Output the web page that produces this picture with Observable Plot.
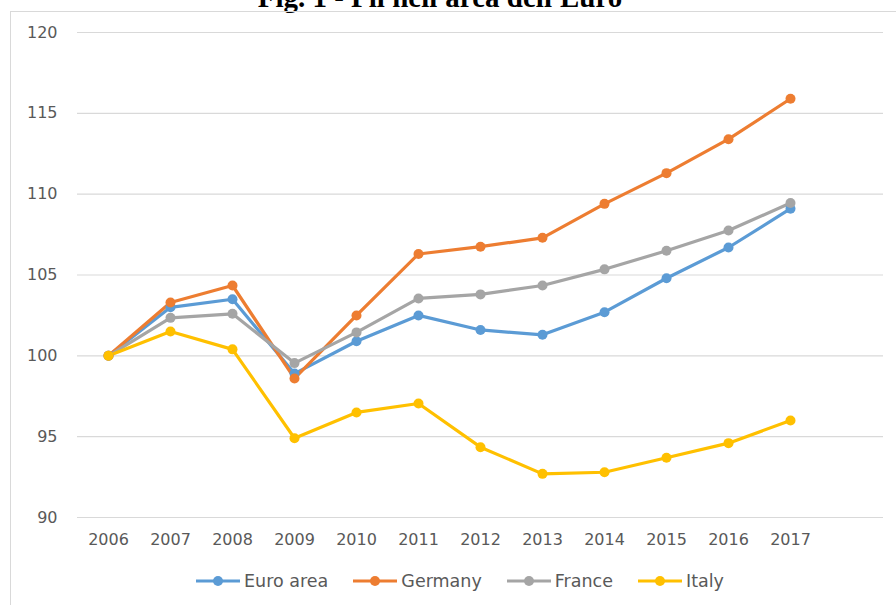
<!DOCTYPE html>
<html>
<head>
<meta charset="utf-8">
<script src="https://cdn.jsdelivr.net/npm/d3@7"></script>
<script src="https://cdn.jsdelivr.net/npm/@observablehq/plot@0.6"></script>
<style>
  html, body { margin: 0; padding: 0; background: #fff; }
  #wrap { position: relative; width: 896px; height: 605px; overflow: hidden; background: #fff; }
  #title { position: absolute; left: 0; width: 880px; top: -17px; text-align: center;
    font-family: "Liberation Serif", "Times New Roman", serif; font-weight: bold; font-size: 29px; line-height: 29px; color: #000; white-space: nowrap; }
  #box { position: absolute; left: 10px; top: 11px; width: 900px; height: 600px; border: 1px solid #d9d9d9; box-sizing: border-box; }
  #chart { position: absolute; left: 0; top: 0; }
  #legend { position: absolute; left: 0; width: 920px; top: 571px; display: flex; justify-content: center; gap: 25px;
    font-family: "DejaVu Sans", sans-serif; font-size: 17.5px; color: #595959; }
  .item { display: flex; align-items: center; gap: 4px; }
</style>
</head>
<body>
<div id="wrap">
  <div id="title">Fig. 1 - Pil nell'area dell'Euro</div>
  <div id="box"></div>
  <div id="chart"></div>
  <div id="legend"></div>
</div>
<script>
const years = [2006, 2007, 2008, 2009, 2010, 2011, 2012, 2013, 2014, 2015, 2016, 2017];
const seriesNames = ["Euro area", "Germany", "France", "Italy"];
const seriesColors = ["#5B9BD5", "#ED7D31", "#A5A5A5", "#FFC000"];
const euroArea = [100, 103.0, 103.5, 98.9, 100.9, 102.5, 101.6, 101.3, 102.7, 104.8, 106.7, 109.1];
const germany  = [100, 103.3, 104.35, 98.6, 102.5, 106.3, 106.75, 107.3, 109.4, 111.3, 113.4, 115.9];
const france   = [100, 102.35, 102.6, 99.55, 101.45, 103.55, 103.8, 104.35, 105.35, 106.5, 107.75, 109.45];
const italy    = [100, 101.5, 100.4, 94.9, 96.5, 97.05, 94.35, 92.7, 92.8, 93.7, 94.6, 96.0];
const yTicks = [90, 95, 100, 105, 110, 115, 120];

const seriesValues = [euroArea, germany, france, italy];
const data = seriesNames.flatMap((name, i) =>
  years.map((year, j) => ({series: name, year, value: seriesValues[i][j]})));

const chart = Plot.plot({
  width: 896,
  height: 562,
  marginLeft: 77,
  marginRight: 13,
  marginTop: 32,
  marginBottom: 45,
  style: {fontFamily: "DejaVu Sans, sans-serif", fontSize: "16px", color: "#595959", background: "transparent"},
  x: {domain: [2005.5, 2018.5], ticks: years, tickFormat: d => String(d), tickSize: 0, tickPadding: 16, label: null},
  y: {domain: [90, 120], ticks: yTicks, tickSize: 0, tickPadding: 20, label: null},
  color: {domain: seriesNames, range: seriesColors},
  marks: [
    Plot.ruleY(yTicks, {stroke: "#d9d9d9", strokeWidth: 1.2}),
    Plot.line(data, {x: "year", y: "value", z: "series", stroke: "series", strokeWidth: 3.2, strokeLinejoin: "round"}),
    Plot.dot(data, {x: "year", y: "value", fill: "series", r: 5})
  ]
});
document.getElementById("chart").appendChild(chart);

const legend = document.getElementById("legend");
seriesNames.forEach((name, i) => {
  const item = document.createElement("div");
  item.className = "item";
  item.innerHTML = `<svg width="44" height="14"><line x1="0" y1="7" x2="44" y2="7" stroke="${seriesColors[i]}" stroke-width="3"/><circle cx="22" cy="7" r="5" fill="${seriesColors[i]}"/></svg><span>${name}</span>`;
  legend.appendChild(item);
});
</script>
</body>
</html>
